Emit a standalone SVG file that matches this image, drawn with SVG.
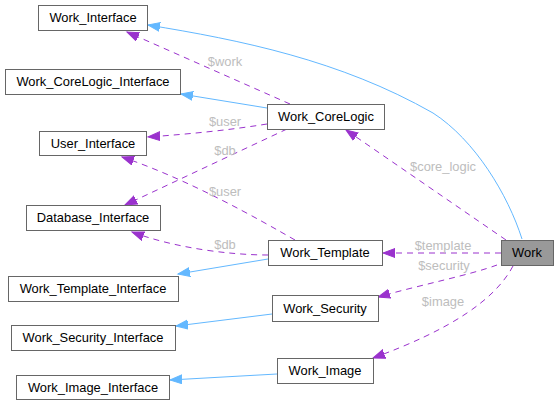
<svg xmlns="http://www.w3.org/2000/svg" width="558" height="405" viewBox="0 0 558 405">
<defs>
<style>
.n rect{fill:#ffffff;stroke:#666666;stroke-width:1}
#Work rect{fill:#999999}
.n text{font-family:"Liberation Sans",Arial,sans-serif;font-size:12.9px;fill:#000000;text-anchor:middle}
.inh{fill:none;stroke:#63b8ff;stroke-width:1;marker-end:url(#ab)}
.use{fill:none;stroke:#9a32cd;stroke-width:1;stroke-dasharray:6,5;marker-end:url(#ap)}
.lbl{font-family:"Liberation Sans",Arial,sans-serif;font-size:12.9px;fill:#bdbdbd;text-anchor:middle}
</style>
<marker id="ab" markerUnits="userSpaceOnUse" markerWidth="14" markerHeight="12" refX="12" refY="5" orient="auto"><path d="M0,0.5 L12,5 L0,9.5 z" fill="#63b8ff" stroke="#63b8ff"/></marker>
<marker id="ap" markerUnits="userSpaceOnUse" markerWidth="14" markerHeight="12" refX="12" refY="5" orient="auto"><path d="M0,0.5 L12,5 L0,9.5 z" fill="#9a32cd" stroke="#9a32cd"/></marker>
</defs>
<rect width="558" height="405" fill="#ffffff"/>
<g id="edges">
<path class="inh" d="M522,239 C508,195 475,140 433,113 C340,60 240,40 148,25"/>
<path class="inh" d="M267,108 L181,94"/>
<path class="inh" d="M268,259 L178,274"/>
<path class="inh" d="M272,314 L176,326"/>
<path class="inh" d="M277,374 L170,380"/>
<path class="use" d="M290,104 L127,32"/>
<path class="use" d="M267,124 C230,130 190,134 148,137"/>
<path class="use" d="M287,129 L125,205"/>
<path class="use" d="M295,240 C260,220 190,180 122,157"/>
<path class="use" d="M268,255 C230,255 175,248 132,232"/>
<path class="use" d="M506,240 L346,130"/>
<path class="use" d="M501,253 L383,253"/>
<path class="use" d="M497,265 C470,275 420,285 378,297"/>
<path class="use" d="M513,266 C495,300 450,330 373,358"/>
<text class="lbl" x="225" y="66">$work</text>
<text class="lbl" x="225" y="126">$user</text>
<text class="lbl" x="225" y="155">$db</text>
<text class="lbl" x="225" y="196">$user</text>
<text class="lbl" x="225" y="249">$db</text>
<text class="lbl" x="443" y="171">$core_logic</text>
<text class="lbl" x="443" y="250">$template</text>
<text class="lbl" x="444" y="270">$security</text>
<text class="lbl" x="443" y="306">$image</text>
</g>
<g id="Work_Interface" class="n"><rect x="38.5" y="5.5" width="109" height="25"/><text x="93" y="22">Work_Interface</text></g>
<g id="Work_CoreLogic_Interface" class="n"><rect x="5.5" y="69.5" width="175" height="25"/><text x="93" y="86">Work_CoreLogic_Interface</text></g>
<g id="User_Interface" class="n"><rect x="39.5" y="131.5" width="107" height="24"/><text x="93" y="148">User_Interface</text></g>
<g id="Database_Interface" class="n"><rect x="26.5" y="205.5" width="134" height="25"/><text x="93" y="222">Database_Interface</text></g>
<g id="Work_Template_Interface" class="n"><rect x="8.5" y="276.5" width="170" height="25"/><text x="93" y="293">Work_Template_Interface</text></g>
<g id="Work_Security_Interface" class="n"><rect x="11.5" y="325.5" width="164" height="25"/><text x="93" y="342">Work_Security_Interface</text></g>
<g id="Work_Image_Interface" class="n"><rect x="16.5" y="375.5" width="153" height="24"/><text x="93" y="392">Work_Image_Interface</text></g>
<g id="Work_CoreLogic" class="n"><rect x="267.5" y="104.5" width="117" height="25"/><text x="326" y="121">Work_CoreLogic</text></g>
<g id="Work_Template" class="n"><rect x="268.5" y="240.5" width="114" height="25"/><text x="325" y="257">Work_Template</text></g>
<g id="Work" class="n"><rect x="501.5" y="240.5" width="52" height="25"/><text x="527" y="257">Work</text></g>
<g id="Work_Security" class="n"><rect x="272.5" y="295.5" width="106" height="26"/><text x="325" y="313">Work_Security</text></g>
<g id="Work_Image" class="n"><rect x="277.5" y="358.5" width="96" height="25"/><text x="325" y="375">Work_Image</text></g>
</svg>
